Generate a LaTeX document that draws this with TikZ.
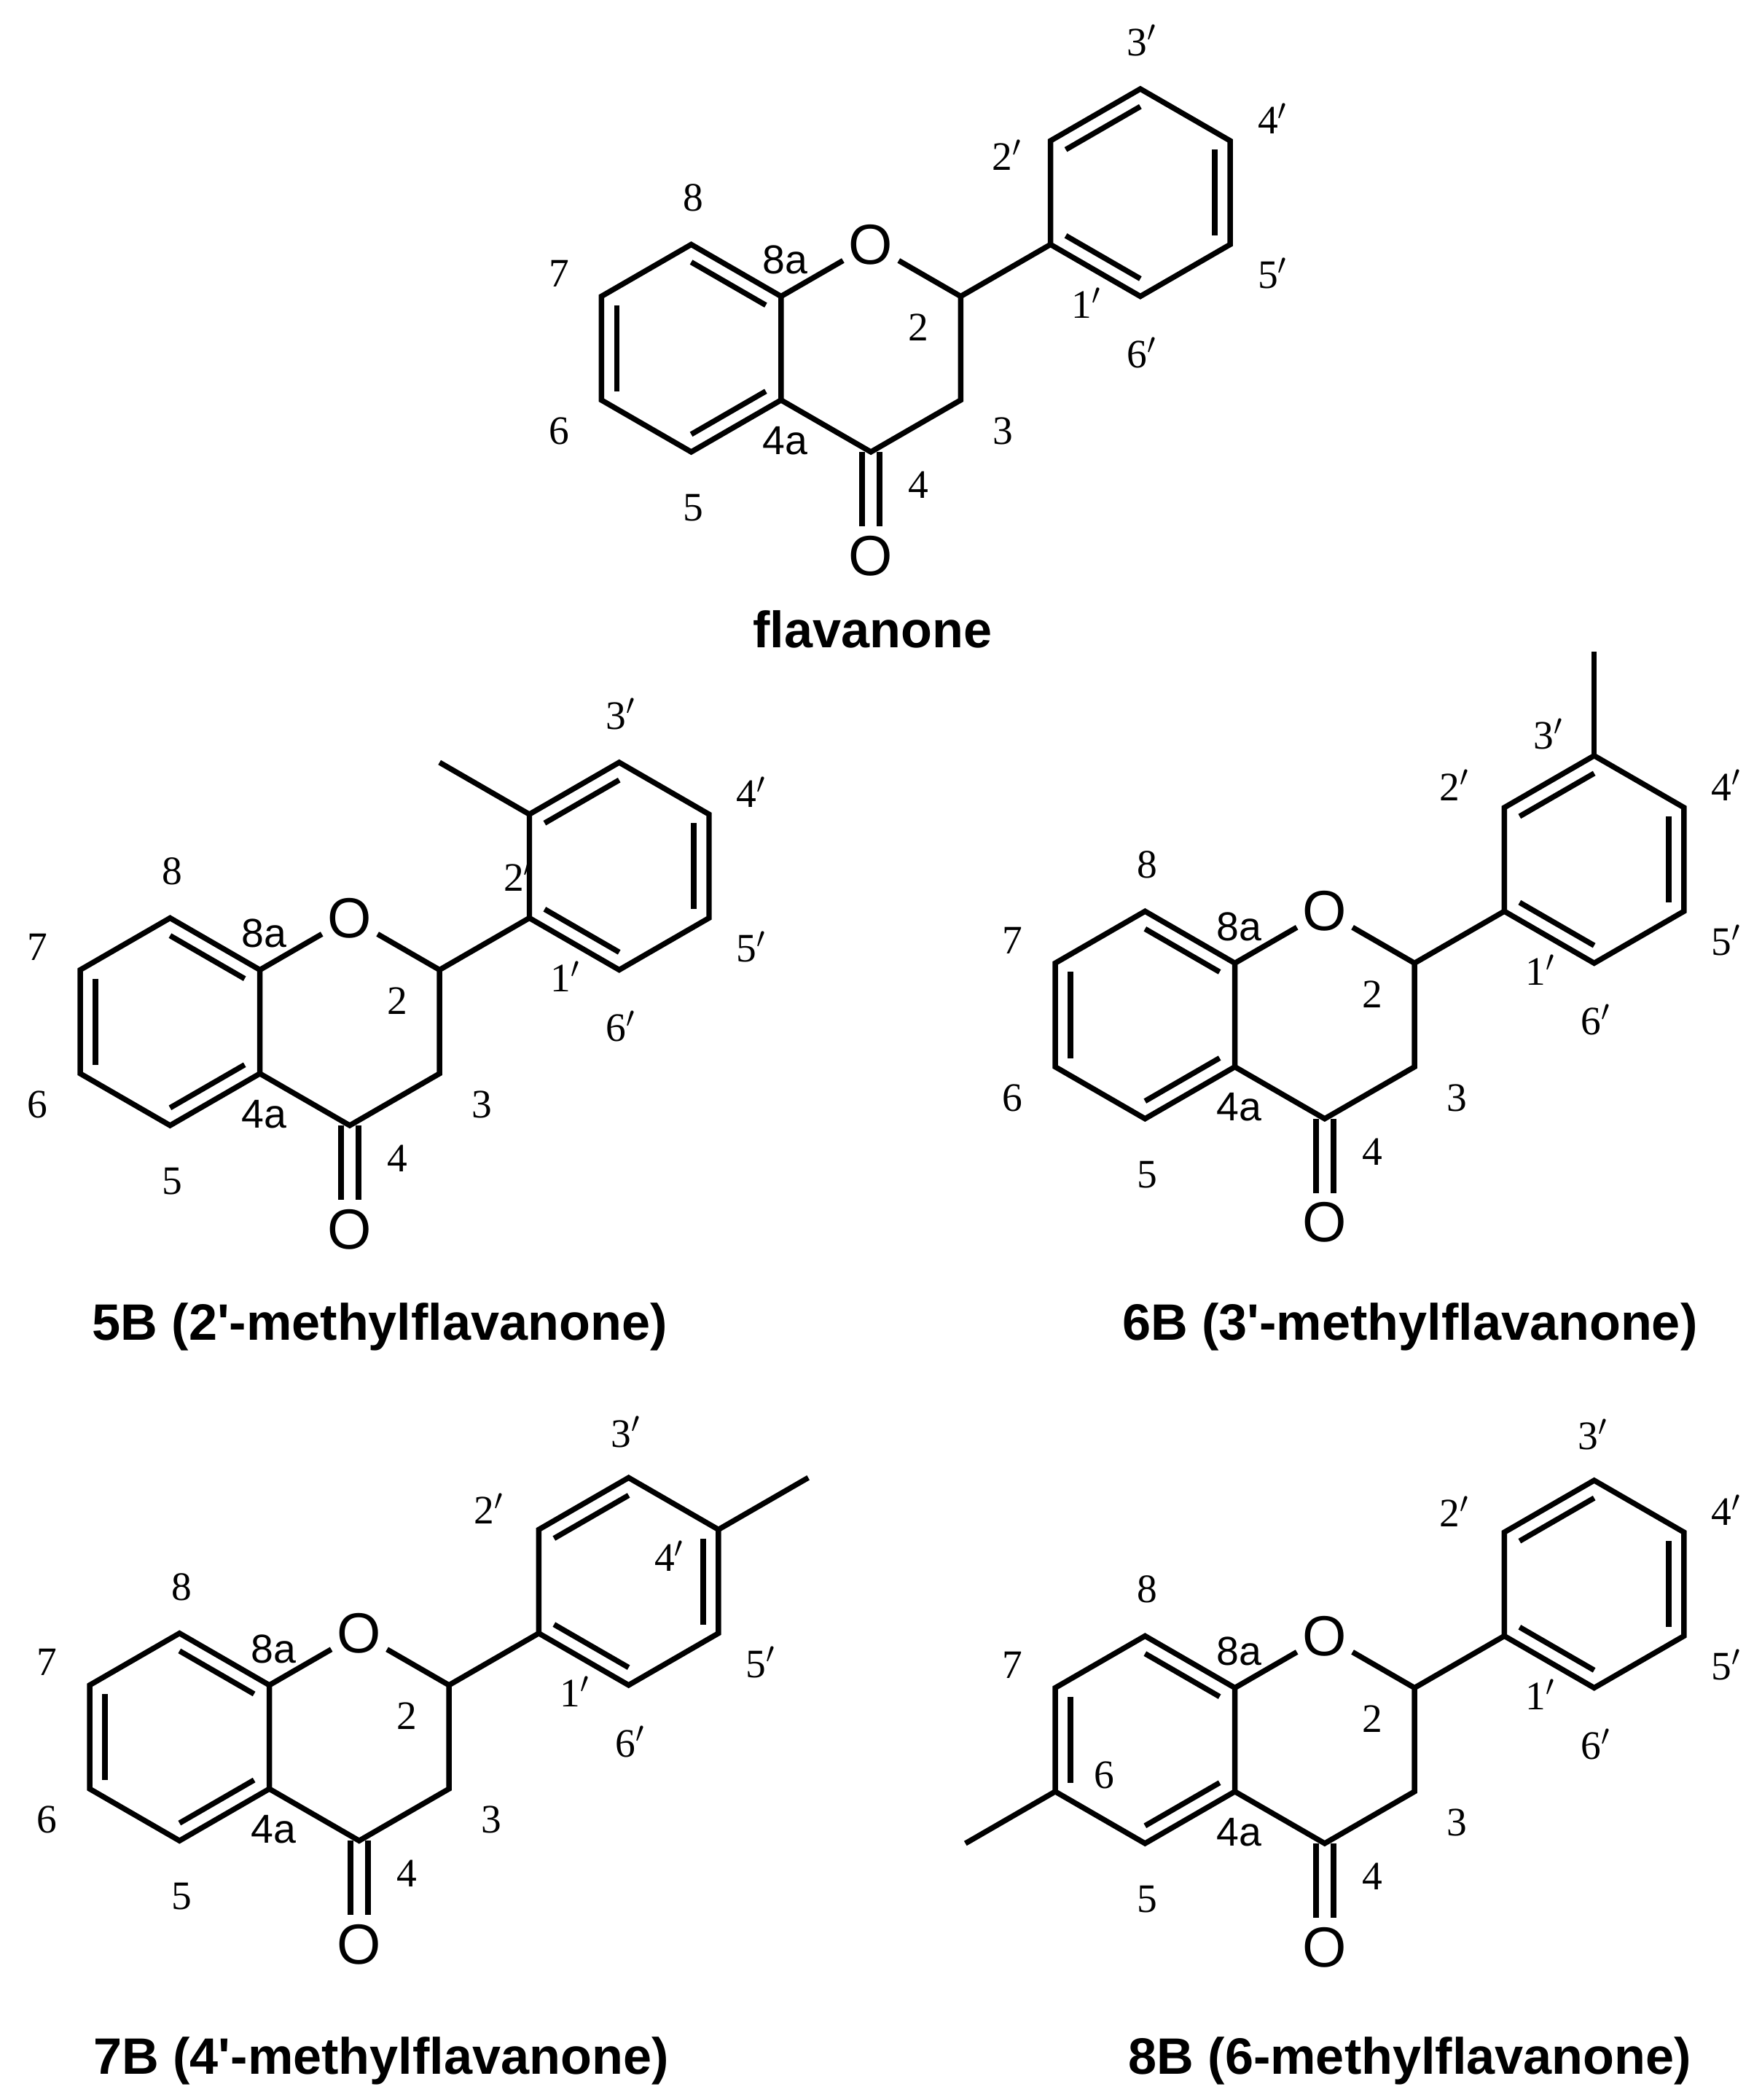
\documentclass[tikz,border=0pt]{standalone}
\usepackage{fontspec}
\setmainfont{Liberation Serif}
\newfontfamily\sansf{Liberation Sans}
\usetikzlibrary{calc}
\tikzset{
  bond/.style={line width=2pt},
  atom/.style={circle,inner sep=0.5pt,font=\sansf\fontsize{21}{21}\selectfont},
  num/.style={font=\fontsize{15}{15}\selectfont,inner sep=0pt},
  snum/.style={font=\sansf\fontsize{15}{15}\selectfont,inner sep=0pt},
  title/.style={font=\sansf\bfseries\fontsize{19}{19}\selectfont,inner sep=0pt}
}
\newcommand\flavcore[3]{%
\begin{scope}[shift={(#2,#3)}]
\coordinate (#1a4) at (0,0);
\coordinate (#1a8) at (0,-77);
\coordinate (#1c8) at (-66.7,-115.5);
\coordinate (#1c7) at (-133.4,-77);
\coordinate (#1c6) at (-133.4,0);
\coordinate (#1c5) at (-66.7,38.5);
\node[atom] (#1O1) at (66.7,-115.5) {O};
\coordinate (#1c2) at (133.4,-77);
\coordinate (#1c3) at (133.4,0);
\coordinate (#1c4) at (66.7,38.5);
\node[atom] (#1O4) at (66.7,115.5) {O};
\coordinate (#1b1) at (200.1,-115.5);
\coordinate (#1b2) at (200.1,-192.5);
\coordinate (#1b3) at (266.8,-231);
\coordinate (#1b4) at (333.5,-192.5);
\coordinate (#1b5) at (333.5,-115.5);
\coordinate (#1b6) at (266.8,-77);
\coordinate (#1cA) at (-66.7,-38.5);
\coordinate (#1cB) at (266.8,-154);
\draw[bond] (#1a4)--(#1a8)--(#1c8)--(#1c7)--(#1c6)--(#1c5)--cycle;
\draw[bond] (#1a8)--(#1O1)--(#1c2)--(#1c3)--(#1c4)--(#1a4);
\draw[bond] (#1c2)--(#1b1);
\draw[bond] (#1b1)--(#1b2)--(#1b3)--(#1b4)--(#1b5)--(#1b6)--cycle;
\draw[bond] ($(#1a8)!0.17!(#1cA)$)--($(#1c8)!0.17!(#1cA)$);
\draw[bond] ($(#1c7)!0.17!(#1cA)$)--($(#1c6)!0.17!(#1cA)$);
\draw[bond] ($(#1c5)!0.17!(#1cA)$)--($(#1a4)!0.17!(#1cA)$);
\draw[bond] ($(#1b2)!0.17!(#1cB)$)--($(#1b3)!0.17!(#1cB)$);
\draw[bond] ($(#1b4)!0.17!(#1cB)$)--($(#1b5)!0.17!(#1cB)$);
\draw[bond] ($(#1b6)!0.17!(#1cB)$)--($(#1b1)!0.17!(#1cB)$);
\draw[bond] ($(#1c4)+(-6.5,0)$)--($(#1O4.north)+(-6.5,2)$);
\draw[bond] ($(#1c4)+(6.5,0)$)--($(#1O4.north)+(6.5,2)$);
\node[num] (#1l8) at (-65,-150) {8};
\node[num] (#1l7) at (-165,-94) {7};
\node[num] (#1l5) at (-65,80) {5};
\node[snum] (#1l8a) at (3,-104) {8a};
\node[snum] (#1l4a) at (3,30) {4a};
\node[num] (#1l2) at (102,-54) {2};
\node[num] (#1l3) at (165,23) {3};
\node[num] (#1l4) at (102,63) {4};
\node[num] (#1l1p) at (227,-72) {1$'$};
\node[num] (#1l5p) at (365,-94) {5$'$};
\node[num] (#1l6p) at (268,-35) {6$'$};
\end{scope}}
\begin{document}
\begin{tikzpicture}[x=0.5pt,y=-0.5pt]
\useasboundingbox (0,0) rectangle (1302,1559);
% flavanone
\flavcore{f}{580}{297}
\begin{scope}[shift={(580,297)}]
\node[num] (fl6) at (-165,23) {6};
\node[num] (fl2p) at (168,-182) {2$'$};
\node[num] (fl3p) at (268,-267) {3$'$};
\node[num] (fl4p) at (365,-209) {4$'$};
\end{scope}
\node[title] (ft) at (648,467) {flavanone};
% 5B
\flavcore{p}{193}{797}
\begin{scope}[shift={(193,797)}]
\coordinate (pme) at (133.4,-231);
\node[num] (pl6) at (-165,23) {6};
\node[num] (pl2p) at (192,-147) {2$'$};
\node[num] (pl3p) at (268,-267) {3$'$};
\node[num] (pl4p) at (365,-209) {4$'$};
\end{scope}
\draw[bond] (pb2)--(pme);
\node[title] (pt) at (282,985) {5B (2'-methylflavanone)};
% 6B
\flavcore{q}{917}{792}
\begin{scope}[shift={(917,792)}]
\coordinate (qme) at (266.8,-308);
\node[num] (ql6) at (-165,23) {6};
\node[num] (ql2p) at (163,-209) {2$'$};
\node[num] (ql3p) at (233,-247) {3$'$};
\node[num] (ql4p) at (365,-209) {4$'$};
\end{scope}
\draw[bond] (qb3)--(qme);
\node[title] (qt) at (1047,985) {6B (3'-methylflavanone)};
% 7B
\flavcore{r}{200}{1328}
\begin{scope}[shift={(200,1328)}]
\coordinate (rme) at (400.2,-231);
\node[num] (rl6) at (-165,23) {6};
\node[num] (rl2p) at (163,-208) {2$'$};
\node[num] (rl3p) at (265,-265) {3$'$};
\node[num] (rl4p) at (297,-173) {4$'$};
\end{scope}
\draw[bond] (rb4)--(rme);
\node[title] (rt) at (283,1530) {7B (4'-methylflavanone)};
% 8B
\flavcore{s}{917}{1330}
\begin{scope}[shift={(917,1330)}]
\coordinate (sme) at (-200.1,38.5);
\node[num] (sl6) at (-97,-12) {6};
\node[num] (sl2p) at (163,-208) {2$'$};
\node[num] (sl3p) at (266,-265) {3$'$};
\node[num] (sl4p) at (365,-209) {4$'$};
\end{scope}
\draw[bond] (sc6)--(sme);
\node[title] (st) at (1047,1530) {8B (6-methylflavanone)};
\end{tikzpicture}
\end{document}
